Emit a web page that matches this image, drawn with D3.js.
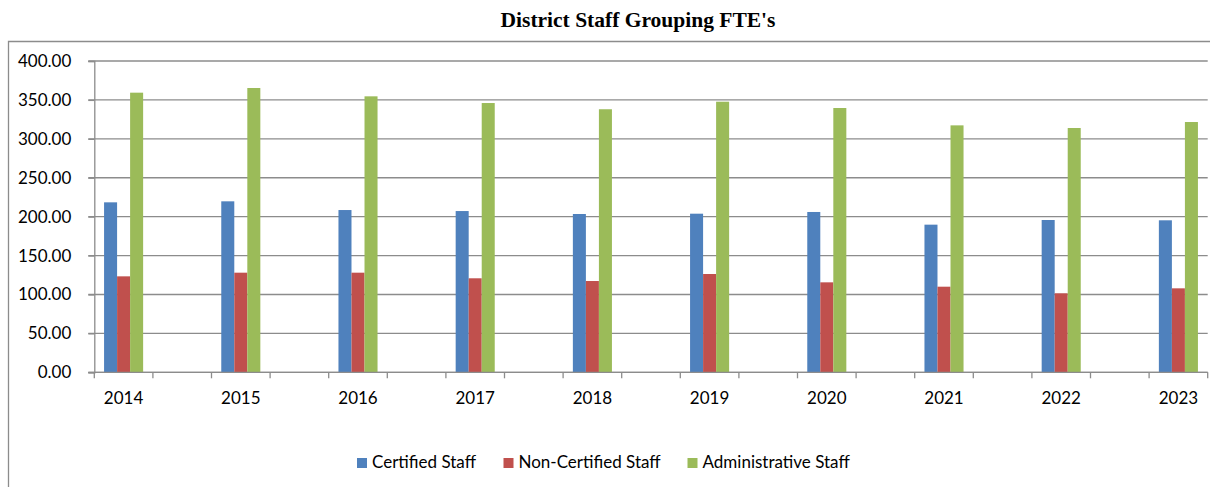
<!DOCTYPE html>
<html>
<head>
<meta charset="utf-8">
<script src="https://cdn.jsdelivr.net/npm/d3@7"></script>
<style>
  body { margin: 0; background: #fff; }
  svg { display: block; }
</style>
</head>
<body>
<div id="chart"></div>
<script>
// chart data
var years = ["2014", "2015", "2016", "2017", "2018", "2019", "2020", "2021", "2022", "2023"];
var certified = [218.4, 219.7, 208.5, 207.2, 203.4, 203.8, 206.0, 189.7, 195.7, 195.3];
var nonCertified = [123.3, 128.0, 128.0, 120.8, 117.3, 126.3, 115.6, 110.0, 101.5, 107.9];
var administrative = [359.3, 365.3, 354.6, 346.0, 338.0, 347.7, 339.6, 317.3, 313.9, 321.6];
var seriesNames = ["Certified Staff", "Non-Certified Staff", "Administrative Staff"];
var seriesColors = ["#4f81bd", "#c0504d", "#9bbb59"];
var yTicks = [0, 50, 100, 150, 200, 250, 300, 350, 400];

var W = 1216, H = 487;
var plot = { left: 94.3, right: 1207.7, top: 61, bottom: 372.3 };
var labelFont = "Lato, 'Open Sans', sans-serif";

var svg = d3.select("#chart").append("svg")
    .attr("width", W)
    .attr("height", H);

// outer chart-area border (only top and left visible in the crop)
svg.append("path")
    .attr("d", "M8.5," + H + "V41.5H1210")
    .attr("fill", "none")
    .attr("stroke", "#8c8c8c")
    .attr("stroke-width", 1.3);

// title
svg.append("text")
    .attr("x", 638)
    .attr("y", 27)
    .attr("text-anchor", "middle")
    .style("font-family", "'Liberation Serif', 'Times New Roman', serif")
    .style("font-weight", "bold")
    .style("font-size", "21.5px")
    .text("District Staff Grouping FTE's");

// one slot per year, with an empty slot between consecutive years
var slots = [];
years.forEach(function (yr, i) {
    slots.push(yr);
    if (i < years.length - 1) slots.push("gap" + i);
});

var x = d3.scaleBand()
    .domain(slots)
    .range([plot.left, plot.right])
    .paddingInner(0)
    .paddingOuter(0);

var bw = x.bandwidth();
var xs = d3.scaleBand()
    .domain(seriesNames)
    .range([bw / 6, bw * 5 / 6]);

var y = d3.scaleLinear()
    .domain([0, 400])
    .range([plot.bottom, plot.top]);

// gridlines
svg.append("g")
    .selectAll("line")
    .data(yTicks)
    .enter().append("line")
    .attr("x1", plot.left - 6)
    .attr("x2", plot.right)
    .attr("y1", function (d) { return y(d); })
    .attr("y2", function (d) { return y(d); })
    .attr("stroke", "#8c8c8c")
    .attr("stroke-width", 1.3);

// y axis
var yAxis = svg.append("g")
    .attr("transform", "translate(" + plot.left + ",0)")
    .call(d3.axisLeft(y).tickValues(yTicks).tickFormat(d3.format(".2f")).tickSize(6).tickPadding(17));
yAxis.selectAll("path, line").attr("stroke", "#8c8c8c").attr("stroke-width", 1.3);
yAxis.selectAll("text")
    .style("font-family", labelFont)
    .style("font-size", "17px")
    .attr("fill", "#000");

// bars
var table = years.map(function (yr, i) {
    return { year: yr, values: [certified[i], nonCertified[i], administrative[i]] };
});

var groups = svg.append("g")
    .selectAll("g")
    .data(table)
    .enter().append("g")
    .attr("transform", function (d) { return "translate(" + x(d.year) + ",0)"; });

groups.selectAll("rect")
    .data(function (d) {
        return d.values.map(function (v, k) { return { name: seriesNames[k], value: v, color: seriesColors[k] }; });
    })
    .enter().append("rect")
    .attr("x", function (d) { return xs(d.name); })
    .attr("width", xs.bandwidth())
    .attr("y", function (d) { return y(d.value); })
    .attr("height", function (d) { return y(0) - y(d.value); })
    .attr("fill", function (d) { return d.color; });

// x axis: baseline, tick marks at slot boundaries, year labels
var xg = svg.append("g");
xg.append("line")
    .attr("x1", plot.left - 6)
    .attr("x2", plot.right)
    .attr("y1", y(0))
    .attr("y2", y(0))
    .attr("stroke", "#8c8c8c")
    .attr("stroke-width", 1.3);

var edges = slots.map(function (s) { return x(s); }).concat([plot.right]);
xg.selectAll(".xtick")
    .data(edges)
    .enter().append("line")
    .attr("class", "xtick")
    .attr("x1", function (d) { return d; })
    .attr("x2", function (d) { return d; })
    .attr("y1", y(0))
    .attr("y2", y(0) + 6)
    .attr("stroke", "#8c8c8c")
    .attr("stroke-width", 1.3);

xg.selectAll(".xlabel")
    .data(years)
    .enter().append("text")
    .attr("class", "xlabel")
    .attr("x", function (d) { return x(d) + bw / 2; })
    .attr("y", 404)
    .attr("text-anchor", "middle")
    .style("font-family", labelFont)
    .style("font-size", "17px")
    .text(function (d) { return d; });

// legend
var legendX = [357, 503.5, 687.5];
var legend = svg.append("g")
    .selectAll("g")
    .data(seriesNames)
    .enter().append("g")
    .attr("transform", function (d, i) { return "translate(" + legendX[i] + ",458)"; });

legend.append("rect")
    .attr("width", 10)
    .attr("height", 10)
    .attr("fill", function (d, i) { return seriesColors[i]; });

legend.append("text")
    .attr("x", 15)
    .attr("y", 10)
    .style("font-family", labelFont)
    .style("font-size", "17px")
    .text(function (d) { return d; });
</script>
</body>
</html>
